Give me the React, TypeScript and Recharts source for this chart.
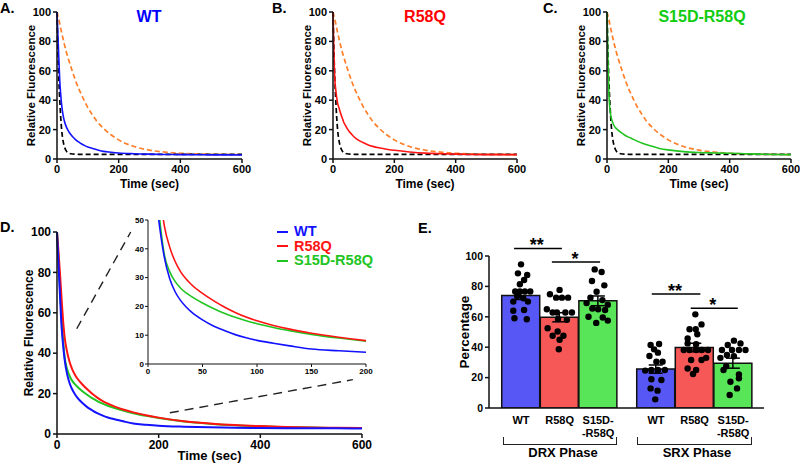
import {
  LineChart, Line, XAxis, YAxis, ComposedChart, Bar, Cell, ErrorBar, Scatter,
  ReferenceLine, ReferenceDot,
} from 'recharts';

const FONT = '"Liberation Sans", Arial, Helvetica, sans-serif';

// --- decay traces (relative fluorescence vs time, sec) ---
const TIME = [0, 3, 6, 9, 12, 15, 20, 25, 30, 35, 40, 50, 60, 70, 80, 90, 100, 115, 130, 150, 175, 200, 250, 300, 350, 400, 450, 500, 550, 600];
// panel D averages (also used for panel A)
const WT_TRACE = [100, 84, 68, 53, 44, 37, 29.5, 25, 22, 19.8, 18, 15.3, 13.2, 11.6, 10.2, 9.1, 8.2, 7.2, 6.3, 5.2, 4.6, 4.1, 3.6, 3.3, 3.1, 3.0, 2.9, 2.8, 2.8, 2.7];
const R58Q_TRACE = [100, 90, 79, 67, 56, 48, 40.5, 35.5, 32, 29.5, 27.5, 24.5, 22, 19.8, 17.9, 16.3, 15, 13.4, 12.1, 10.7, 9.3, 8.1, 6.3, 5.2, 4.4, 3.9, 3.5, 3.2, 3.1, 3.0];
const S15D_TRACE = [100, 86, 71, 57, 46, 38, 32, 28.6, 26.3, 24.7, 23.4, 21.2, 19.3, 17.6, 16.2, 15, 14, 12.7, 11.6, 10.3, 9, 7.9, 6.2, 5.1, 4.3, 3.8, 3.4, 3.2, 3.0, 3.0];
// panels B and C traces
const B_R58Q_TRACE = [100, 72, 54, 47, 42, 38, 34.5, 31, 28, 25, 23, 19.5, 17, 14.8, 13.2, 12, 11, 9.6, 8.6, 7.6, 6.6, 5.9, 4.8, 4.0, 3.6, 3.3, 3.1, 3, 3, 3];
const C_S15D_TRACE = [100, 68, 45, 35, 30, 27, 24, 22, 20.8, 19.8, 19, 17.5, 16, 14.9, 14, 13, 12, 10.7, 9.7, 8.5, 7, 6.2, 5, 4.4, 4.1, 3.9, 3.6, 3.3, 3.1, 3];
// dashed references: slow (orange) and fast (black)
const SLOW_REF = [100, 97.5, 95, 92, 89, 86, 81.5, 77, 73, 69.5, 66, 59.5, 53.5, 48, 43.5, 39, 35, 30, 25.5, 21, 16.5, 13, 8.5, 6, 4.7, 3.9, 3.5, 3.2, 3.1, 3];
const FAST_REF = [100, 74, 54, 40, 28.5, 20, 12, 7.8, 5.5, 4.4, 3.8, 3.4, 3.3, 3.2, 3.2, 3.2, 3.2, 3.2, 3.2, 3.2, 3.2, 3.2, 3.2, 3.2, 3.2, 3.2, 3.2, 3.2, 3.2, 3.2];

// --- panel E: DRX / SRX percentages ---
const GROUP_LABELS = [['WT'], ['R58Q'], ['S15D-', '-R58Q'], ['WT'], ['R58Q'], ['S15D-', '-R58Q']];
const BAR_MEAN = [74, 59.7, 70.5, 25.6, 39.8, 29.5];
const BAR_SEM = [2.6, 3, 3.2, 2.7, 2.8, 3.3];
// individual points: [jitter, value]
const DRX_WT_DOTS = [[0, 94.5], [-0.08, 88.6], [0.16, 87.5], [0.08, 84.2], [-0.03, 81.4], [-0.15, 76.6], [-0.03, 76.6], [0.1, 76.6], [0.24, 76.6], [-0.1, 73.7], [0.06, 72.2], [-0.2, 70], [0.18, 70], [-0.2, 64], [0.08, 64.5], [-0.17, 59], [0.15, 58.4]];
const DRX_R58Q_DOTS = [[0, 77.7], [-0.25, 74.8], [-0.09, 72.6], [0.06, 72.6], [0.22, 72.6], [-0.33, 65], [-0.18, 62.8], [-0.07, 62.8], [0.15, 62.8], [0.32, 62.8], [-0.04, 58.6], [0.19, 58], [-0.31, 52.5], [-0.05, 50.3], [-0.18, 47.5], [0.1, 47.5], [0, 44.9], [-0.02, 38.7]];
const DRX_S15D_DOTS = [[-0.09, 91.2], [0.09, 89.5], [-0.16, 83.6], [0.16, 80.7], [-0.04, 76.5], [-0.2, 72.6], [0.11, 71], [-0.3, 69], [0.25, 68], [-0.15, 65.5], [0, 65], [0.18, 64.5], [-0.25, 60], [0.12, 59.5], [0.25, 57.5], [-0.05, 56]];
const SRX_WT_DOTS = [[-0.14, 41.4], [0.08, 42.1], [-0.05, 38.6], [0.05, 36.4], [-0.17, 34.2], [0.01, 30.5], [0.17, 30.5], [-0.28, 24.6], [-0.12, 25], [0.05, 25], [0.23, 25], [-0.12, 18.9], [0.14, 18.4], [-0.14, 12.9], [0.04, 11.4], [-0.02, 5.7]];
const SRX_R58Q_DOTS = [[0.02, 61.6], [0.18, 55], [-0.13, 51.8], [0.03, 51.8], [0.07, 48.5], [-0.18, 45.8], [-0.18, 42.5], [0.04, 42], [-0.28, 38.2], [-0.13, 38.2], [0.04, 38.2], [0.19, 38.2], [0.35, 38.2], [-0.09, 31.6], [0.18, 31.6], [0.3, 33], [-0.18, 26], [0.04, 25], [-0.04, 22.4]];
const SRX_S15D_DOTS = [[0.02, 44.3], [0.19, 42.5], [-0.14, 41.4], [-0.29, 38.2], [-0.03, 38.2], [0.15, 38.2], [0.32, 38.2], [-0.16, 34.9], [0.02, 34], [-0.33, 33], [-0.18, 27.5], [-0.25, 25], [0.15, 22], [0.15, 19.5], [-0.07, 17.3], [0.1, 12.9], [-0.09, 8.6]];

// layout: where each bar sits on the numeric x axis of panel E
const SLOT_X = [0, 1, 2, 3.5, 4.5, 5.5];
const BAR_FILLS = ['#5757f6', '#f65858', '#58e658'];

const BLUE = '#1212ff';
const RED = '#ff1414';
const GREEN = '#22c422';
const ORANGE = '#ff7f2a';

const traceRows = TIME.map((t, i) => ({
  t, wt: WT_TRACE[i], r58q: R58Q_TRACE[i], s15d: S15D_TRACE[i],
  bR58q: B_R58Q_TRACE[i], cS15d: C_S15D_TRACE[i], slow: SLOW_REF[i], fast: FAST_REF[i],
}));

const barRows = BAR_MEAN.map((m, i) => ({ pos: SLOT_X[i], mean: m, sem: BAR_SEM[i] }));
const dotRows = [DRX_WT_DOTS, DRX_R58Q_DOTS, DRX_S15D_DOTS, SRX_WT_DOTS, SRX_R58Q_DOTS, SRX_S15D_DOTS]
  .flatMap((g, i) => g.map(([dx, v]) => ({ x: SLOT_X[i] + dx, y: v })));

const tk = (size: number) => ({ fontSize: size, fontWeight: 700, fill: '#000', fontFamily: FONT });
const AX = { stroke: '#111', strokeWidth: 1.5 };

// rotated y-axis title, placed cx px from the axis box's left edge
function vLabel(text: string, cx: number, size: number) {
  return (p: any) => {
    const vb = p.viewBox;
    const x = vb.x + cx;
    const y = vb.y + vb.height / 2;
    return (
      <text x={x} y={y} transform={`rotate(-90, ${x}, ${y})`} textAnchor="middle" dominantBaseline="central"
        fontSize={size} fontWeight={700} fontFamily={FONT} fill="#000">{text}</text>
    );
  };
}

function DecayPanel({ left, width, right, series, color }: { left: number; width: number; right: number; series: string; color: string }) {
  return (
    <div style={{ position: 'absolute', left, top: 0 }}>
      <LineChart width={width} height={195} data={traceRows} margin={{ top: 12, right, bottom: 6, left: 0 }}>
        <XAxis dataKey="t" type="number" domain={[0, 600]} ticks={[0, 200, 400, 600]} height={30} tickSize={4}
          tick={tk(11)} axisLine={AX} tickLine={AX}
          label={{ value: 'Time (sec)', position: 'insideBottom', offset: 1, ...tk(12) }} />
        <YAxis domain={[0, 100]} ticks={[0, 20, 40, 60, 80, 100]} width={57} tickSize={4} tick={tk(11)}
          axisLine={AX} tickLine={AX} label={vLabel('Relative Fluorescence', 30.5, 11.5)} />
        <Line dataKey="slow" type="monotone" stroke={ORANGE} strokeWidth={1.7} strokeDasharray="5 3" dot={false} isAnimationActive={false} />
        <Line dataKey="fast" type="monotone" stroke="#000" strokeWidth={1.7} strokeDasharray="5 3" dot={false} isAnimationActive={false} />
        <Line dataKey={series} type="monotone" stroke={color} strokeWidth={1.6} dot={false} isAnimationActive={false} />
      </LineChart>
    </div>
  );
}

const letter = (text: string, left: number, top: number) => (
  <div style={{ position: 'absolute', zIndex: 10, left, top, fontSize: 14.5, lineHeight: '14px', fontWeight: 700, color: '#000' }}>{text}</div>
);
const title = (text: string, cx: number, color: string) => (
  <div style={{ position: 'absolute', zIndex: 10, left: cx - 100, width: 200, top: 9, textAlign: 'center', fontSize: 16, lineHeight: '16px', fontWeight: 700, color }}>{text}</div>
);

// zoom guides in panel D (data coords)
const GUIDES = [
  [{ x: 38.8, y: 52.1 }, { x: 145, y: 100 }],
  [{ x: 222, y: 10.5 }, { x: 582, y: 26.9 }],
];

// significance bars in panel E
const SIG = [
  { x1: -0.18, x2: 1.06, y: 105, mx: 0.41, mark: '**' },
  { x1: 0.8, x2: 2.05, y: 96, mx: 1.4, mark: '*' },
  { x1: 3.39, x2: 4.65, y: 75, mx: 3.99, mark: '**' },
  { x1: 4.4, x2: 5.62, y: 65.7, mx: 4.97, mark: '*' },
];

function GroupTick(p: any) {
  const idx = SLOT_X.indexOf(p.payload.value);
  const lines = GROUP_LABELS[idx] || [];
  return (
    <text x={p.x} y={p.y} textAnchor="middle" {...tk(11)}>
      {lines.map((l, i) => <tspan key={i} x={p.x} dy={i === 0 ? 12 : 12.5}>{l}</tspan>)}
    </text>
  );
}

const LEGEND = [
  { name: 'WT', color: BLUE, y: 231.5 },
  { name: 'R58Q', color: RED, y: 246 },
  { name: 'S15D-R58Q', color: GREEN, y: 260.5 },
];

const bracket = (left: number, width: number) => (
  <div style={{ position: 'absolute', left, top: 437, width, height: 8, borderLeft: '1.5px solid #222', borderRight: '1.5px solid #222', borderBottom: '1.5px solid #222', boxSizing: 'border-box' }} />
);
const phase = (text: string, cx: number) => (
  <div style={{ position: 'absolute', zIndex: 10, left: cx - 50, width: 100, top: 446, textAlign: 'center', fontSize: 13, lineHeight: '13px', fontWeight: 700 }}>{text}</div>
);

export default function App() {
  return (
    <div style={{ position: 'fixed', left: 0, top: 0, width: 800, height: 464, background: '#fff', fontFamily: FONT, overflow: 'hidden' }}>
      <DecayPanel left={0} width={260} right={18} series="wt" color={BLUE} />
      <DecayPanel left={276} width={259} right={18} series="bR58q" color={RED} />
      <DecayPanel left={550} width={250} right={9} series="cS15d" color={GREEN} />
      {letter('A.', 0, 1)}
      {letter('B.', 272, 1)}
      {letter('C.', 543, 1)}
      {title('WT', 149, '#0000ff')}
      {title('R58Q', 425, '#ff0000')}
      {title('S15D-R58Q', 702, '#11cc11')}

      {/* panel D */}
      <div style={{ position: 'absolute', left: 0, top: 200 }}>
        <LineChart width={380} height={264} data={traceRows} margin={{ top: 32, right: 18, bottom: 2, left: 0 }}>
          <XAxis dataKey="t" type="number" domain={[0, 600]} ticks={[0, 200, 400, 600]} height={28} tickSize={4}
            tick={tk(12)} axisLine={AX} tickLine={AX}
            label={{ value: 'Time (sec)', position: 'insideBottom', offset: 2, ...tk(13) }} />
          <YAxis domain={[0, 100]} ticks={[0, 20, 40, 60, 80, 100]} width={57} tickSize={4} tick={tk(12)}
            axisLine={AX} tickLine={AX} label={vLabel('Relative Fluorescence', 29, 12)} />
          {GUIDES.map((seg, i) => (
            <ReferenceLine key={i} segment={seg} ifOverflow="visible" stroke="#222" strokeWidth={1.4} strokeDasharray="9 6" />
          ))}
          <Line dataKey="s15d" type="monotone" stroke={GREEN} strokeWidth={2} dot={false} isAnimationActive={false} />
          <Line dataKey="r58q" type="monotone" stroke={RED} strokeWidth={2} dot={false} isAnimationActive={false} />
          <Line dataKey="wt" type="monotone" stroke={BLUE} strokeWidth={2} dot={false} isAnimationActive={false} />
        </LineChart>
      </div>
      {/* inset */}
      <div style={{ position: 'absolute', left: 126, top: 214 }}>
        <LineChart width={248} height={166} data={traceRows} margin={{ top: 6, right: 8, bottom: 0, left: 0 }}>
          <XAxis dataKey="t" type="number" domain={[0, 200]} allowDataOverflow ticks={[0, 50, 100, 150, 200]} height={16}
            tickSize={3} tickMargin={1} tick={tk(8)} axisLine={{ stroke: '#111', strokeWidth: 1 }} tickLine={{ stroke: '#111' }} />
          <YAxis domain={[0, 50]} allowDataOverflow ticks={[0, 10, 20, 30, 40, 50]} width={22} tickSize={3} tickMargin={1}
            tick={tk(8)} axisLine={{ stroke: '#111', strokeWidth: 1 }} tickLine={{ stroke: '#111' }} />
          <Line dataKey="s15d" type="monotone" stroke={GREEN} strokeWidth={1.6} dot={false} isAnimationActive={false} />
          <Line dataKey="r58q" type="monotone" stroke={RED} strokeWidth={1.6} dot={false} isAnimationActive={false} />
          <Line dataKey="wt" type="monotone" stroke={BLUE} strokeWidth={1.6} dot={false} isAnimationActive={false} />
        </LineChart>
      </div>
      {LEGEND.map((l) => (
        <div key={l.name} style={{ position: 'absolute', zIndex: 10, left: 277, top: l.y - 6.5, height: 13, display: 'flex', alignItems: 'center' }}>
          <span style={{ display: 'inline-block', width: 11, height: 2, background: l.color, marginRight: 6 }} />
          <span style={{ fontSize: 14.5, lineHeight: '13px', fontWeight: 700, color: l.color }}>{l.name}</span>
        </div>
      ))}
      {letter('D.', 0, 220)}

      {/* panel E */}
      <div style={{ position: 'absolute', left: 420, top: 228 }}>
        <ComposedChart width={360} height={236} data={barRows} margin={{ top: 28, right: 16, bottom: 0, left: 0 }}>
          <XAxis dataKey="pos" type="number" domain={[-0.83, 6.3]} allowDataOverflow ticks={SLOT_X} height={56}
            tickLine={false} tickSize={0} tickMargin={4} tick={<GroupTick />} axisLine={AX} />
          <XAxis xAxisId="dots" dataKey="x" type="number" domain={[-0.83, 6.3]} allowDataOverflow hide />
          <YAxis domain={[0, 100]} allowDataOverflow ticks={[0, 20, 40, 60, 80, 100]} width={69} tickSize={4} tick={tk(10.5)}
            axisLine={AX} tickLine={AX} label={vLabel('Percentage', 44, 13.5)} />
          <Bar dataKey="mean" barSize={38} isAnimationActive={false}>
            {barRows.map((r, i) => (
              <Cell key={i} fill={BAR_FILLS[i % 3]} stroke="#111" strokeWidth={1.5} />
            ))}
            <ErrorBar dataKey="sem" width={7} stroke="#000" strokeWidth={1.5} direction="y" />
          </Bar>
          <Scatter xAxisId="dots" data={dotRows} dataKey="y" isAnimationActive={false}
            shape={(p: any) => <circle cx={p.cx} cy={p.cy} r={3.2} fill="#000" />} />
          {SIG.map((s, i) => (
            <ReferenceLine key={`l${i}`} segment={[{ x: s.x1, y: s.y }, { x: s.x2, y: s.y }]} ifOverflow="visible" stroke="#000" strokeWidth={1.5} />
          ))}
          {SIG.map((s, i) => (
            <ReferenceDot key={`d${i}`} x={s.mx} y={s.y} ifOverflow="visible"
              shape={(p: any) => <text x={p.cx} y={p.cy + 3} textAnchor="middle" fontSize={18} fontWeight={700} fontFamily={FONT}>{s.mark}</text>} />
          ))}
        </ComposedChart>
      </div>
      {letter('E.', 418, 221)}
      {bracket(503, 114)}
      {bracket(637, 115)}
      {phase('DRX Phase', 563)}
      {phase('SRX Phase', 697)}
    </div>
  );
}
